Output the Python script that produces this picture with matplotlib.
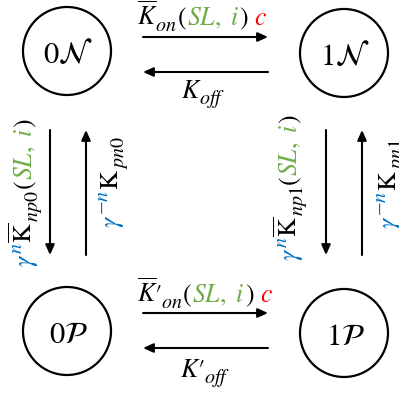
import matplotlib
matplotlib.use("Agg")
import matplotlib.pyplot as plt
from matplotlib.patches import Ellipse

plt.rcParams['mathtext.fontset'] = 'stix'
plt.rcParams['font.family'] = ['STIXGeneral', 'DejaVu Serif']

W, H = 399, 394
BLACK = '#000000'
GREEN = '#70AD47'
BLUE = '#0070C0'
RED = '#FF0000'

# states: label, centre (px)
state_labels = [r"$0\mathcal{N}$", r"$1\mathcal{N}$", r"$0\mathcal{P}$", r"$1\mathcal{P}$"]
state_centers = [(67, 51), (344, 53), (67, 331), (344, 333)]
state_radius = 44

# transitions: (start, end) in px
arrows = [((143, 37), (268, 37)),
          ((268, 72), (143, 72)),
          ((143, 313), (268, 313)),
          ((268, 348), (143, 348)),
          ((50, 130), (50, 255)),
          ((86, 255), (86, 130)),
          ((326, 130), (326, 255)),
          ((362, 255), (362, 130))]

# rate labels: pieces (text, colour, kind n/b(sub)/p(sup), kern px), anchor (centre, baseline), rotation
SLI = r"$SL,\ i$"
rate_labels = [
    ([(r"$\overline{K}$", BLACK, 'n', 0), (r"$on$", BLACK, 'b', -2), (r"$($", BLACK, 'n', 0),
      (SLI, GREEN, 'n', 0), (r"$)$", BLACK, 'n', 0), (r"$\ c$", RED, 'n', 0)], (202, 25), 0),
    ([(r"$K$", BLACK, 'n', 0), (r"$off$", BLACK, 'b', -2)], (203, 98), 0),
    ([(r"$\overline{K}$", BLACK, 'n', 0), ("\u2032", BLACK, 'n', -3), (r"$on$", BLACK, 'b', -1),
      (r"$($", BLACK, 'n', 0), (SLI, GREEN, 'n', 0), (r"$)$", BLACK, 'n', 0), (r"$\ c$", RED, 'n', 0)], (205, 302), 0),
    ([(r"$K$", BLACK, 'n', 0), ("\u2032", BLACK, 'n', -3), (r"$off$", BLACK, 'b', -1)], (205, 377), 0),
    ([(r"$\gamma$", BLUE, 'n', 0), (r"$n$", BLUE, 'p', 0), (r"$\overline{\mathrm{K}}$", BLACK, 'n', 0),
      (r"$np0$", BLACK, 'b', 0), (r"$($", BLACK, 'n', 0), (SLI, GREEN, 'n', 0), (r"$)$", BLACK, 'n', 0)], (32, 193), 90),
    ([(r"$\gamma$", BLUE, 'n', 0), (r"$-n$", BLUE, 'p', 0), (r"$\mathrm{K}$", BLACK, 'n', 0),
      (r"$pn0$", BLACK, 'b', 0)], (118, 182), 90),
    ([(r"$\gamma$", BLUE, 'n', 0), (r"$n$", BLUE, 'p', 0), (r"$\overline{\mathrm{K}}$", BLACK, 'n', 0),
      (r"$np1$", BLACK, 'b', 0), (r"$($", BLACK, 'n', 0), (SLI, GREEN, 'n', 0), (r"$)$", BLACK, 'n', 0)], (297, 188), 90),
    ([(r"$\gamma$", BLUE, 'n', 0), (r"$-n$", BLUE, 'p', 0), (r"$\mathrm{K}$", BLACK, 'n', 0),
      (r"$pn1$", BLACK, 'b', 0)], (396, 184), 90),
]

FS = 18.5
FS_STATE = 22
SUB = 0.78

fig = plt.figure(figsize=(W / 100, H / 100), dpi=100)
ax = fig.add_axes([0, 0, 1, 1])
ax.set_xlim(0, W)
ax.set_ylim(H, 0)
ax.axis('off')

for lab, (cx, cy) in zip(state_labels, state_centers):
    ax.add_patch(Ellipse((cx, cy), 2 * state_radius, 2 * state_radius,
                         fill=False, edgecolor=BLACK, lw=1.6))
    ax.text(cx + 1, cy + 12, lab, fontsize=FS_STATE, ha='center', va='baseline')

for (x0, y0), (x1, y1) in arrows:
    ax.annotate("", xy=(x1, y1), xytext=(x0, y0),
                arrowprops=dict(arrowstyle='-|>,head_length=0.6,head_width=0.27',
                                color=BLACK, lw=1.5, shrinkA=0, shrinkB=0,
                                mutation_scale=10))

renderer = fig.canvas.get_renderer()


def colored_text(pieces, anchor, rotation, fs=FS):
    x, y = anchor
    em = fs * 100 / 72
    items = []
    for s, c, k, kern in pieces:
        size = fs if k == 'n' else fs * SUB
        off = 0 if k == 'n' else (0.22 * em if k == 'b' else -0.4 * em)
        t = ax.text(0, 0, s, color=c, fontsize=size, rotation=rotation,
                    rotation_mode='anchor', ha='left', va='baseline')
        bb = t.get_window_extent(renderer)
        L = bb.width if rotation == 0 else bb.height
        items.append((t, L, off, kern))
    total = sum(L + kern for _, L, _, kern in items)
    pos = 0
    for t, L, off, kern in items:
        pos += kern
        if rotation == 0:
            t.set_position((x - total / 2 + pos, y + off))
        else:
            t.set_position((x + off, y + total / 2 - pos))
        pos += L


for pieces, anchor, rot in rate_labels:
    colored_text(pieces, anchor, rot)

fig.savefig("out.png", dpi=100)
